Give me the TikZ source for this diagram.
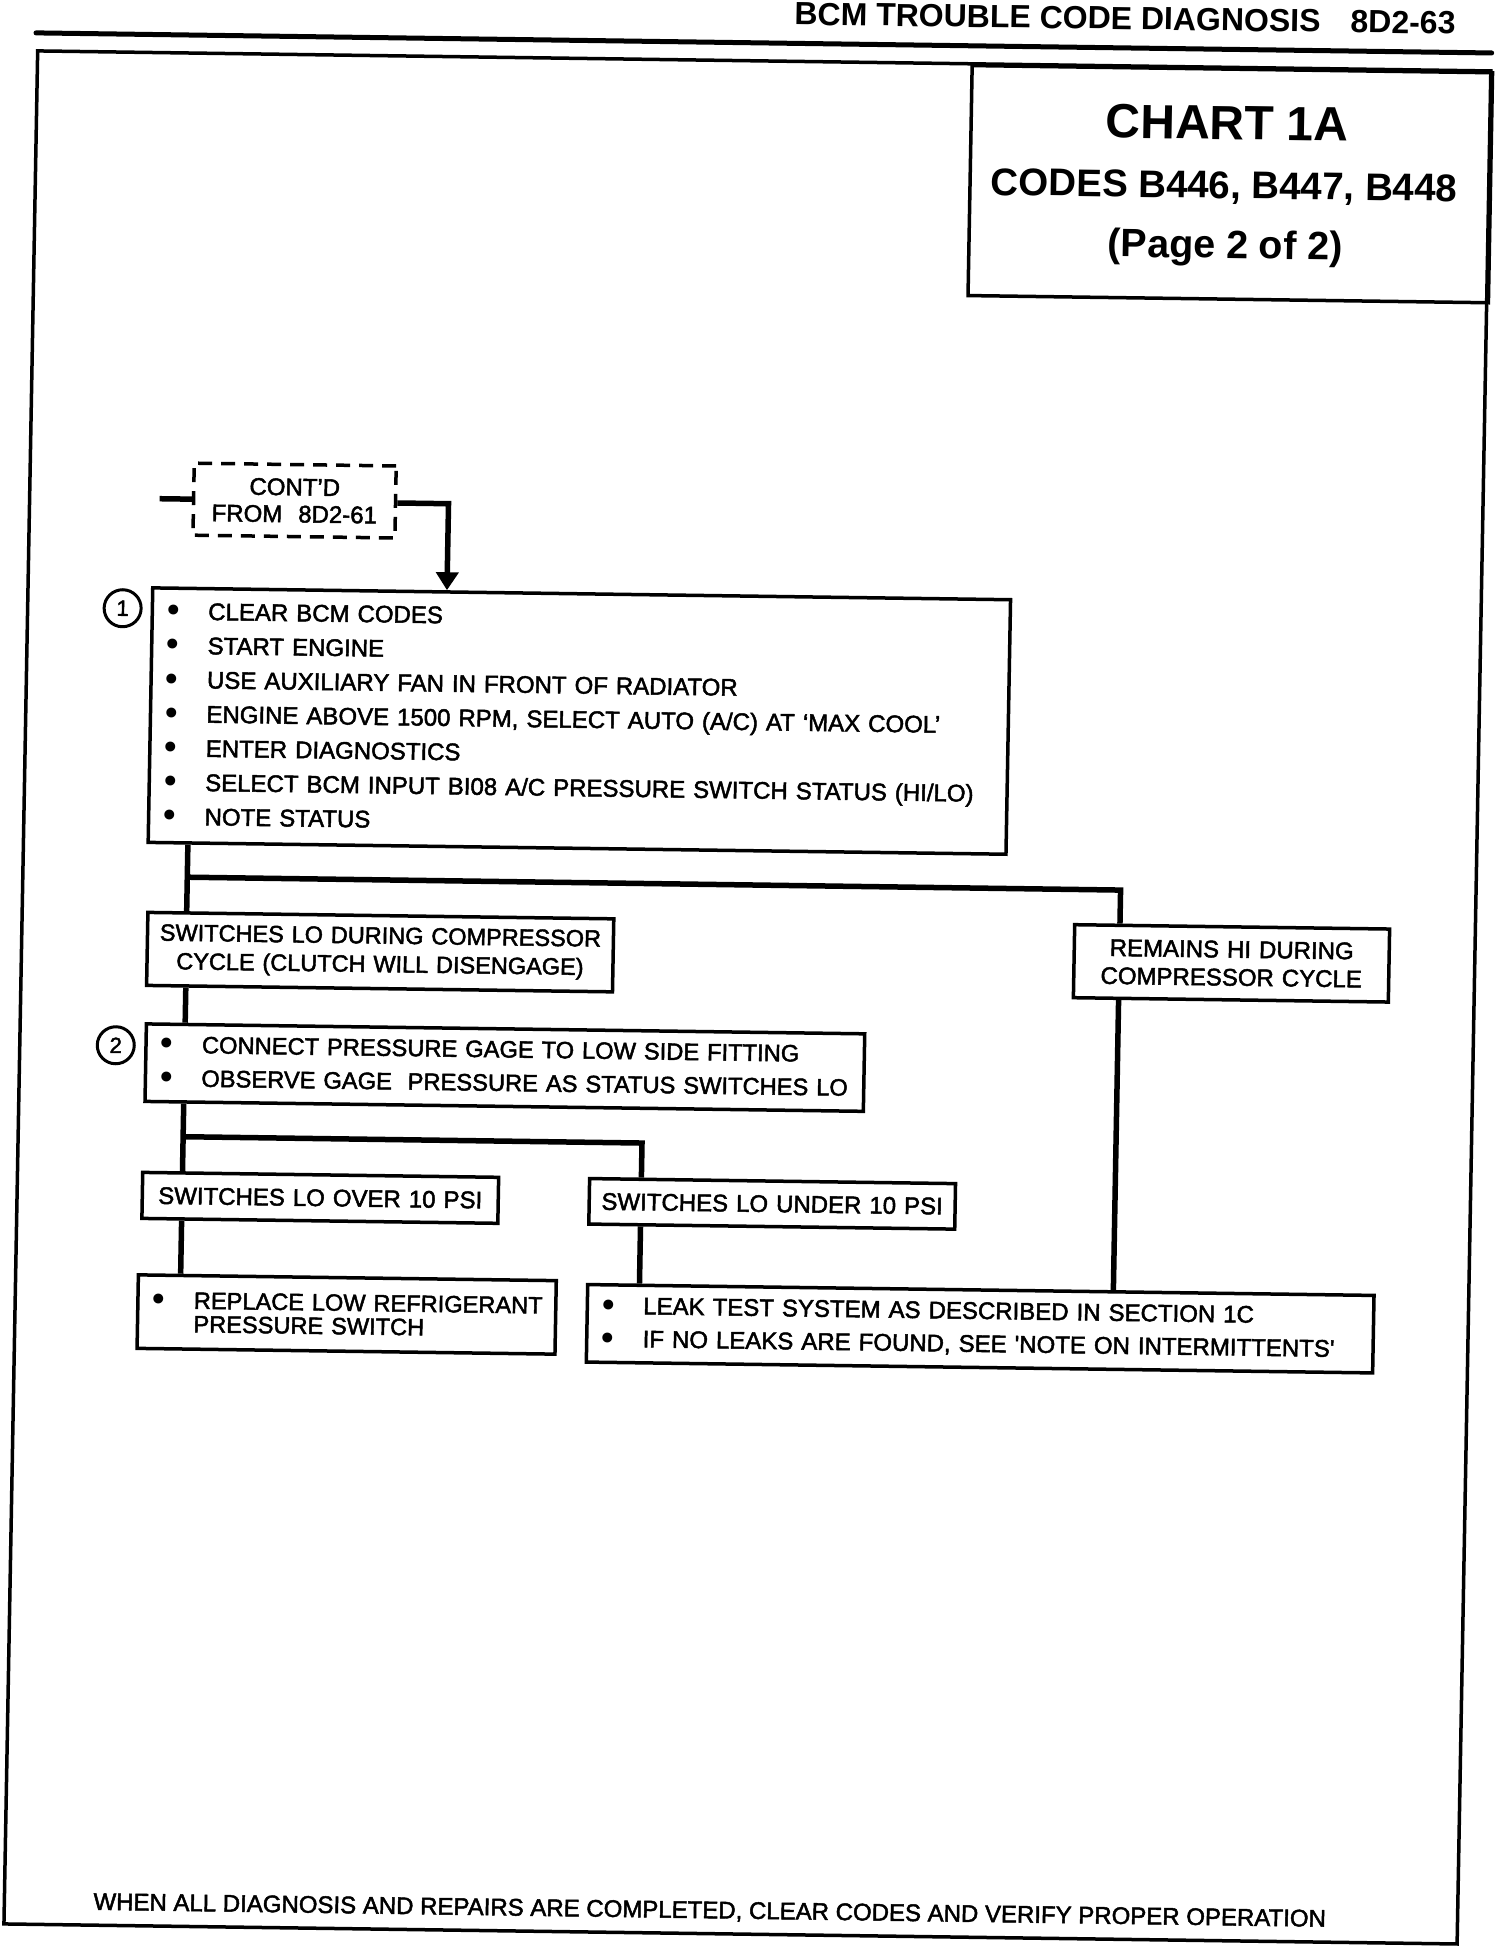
\documentclass[tikz,border=0pt]{standalone}
\usepackage{fontspec}
\setmainfont{Liberation Sans}
\newfontfamily\bodyfont{Liberation Sans}[FakeBold=2]
\newfontfamily\dejavu{DejaVu Sans}
\usetikzlibrary{arrows.meta}
\newcommand{\bul}{\makebox[56pt][l]{\hspace{11pt}\raisebox{-3.3pt}{\dejavu\fontsize{34}{34}\selectfont •}}}
\newcommand{\hang}{\hspace*{56pt}}
\begin{document}
\begin{tikzpicture}[x=1pt,y=-1pt,
  frameline/.style={line width=3.5pt},
  box/.style={draw, line width=3.5pt, inner sep=0pt, anchor=north west, transform shape},
  lbox/.style={box, align=left},
  cbox/.style={box, align=center},
  conn/.style={line width=5.5pt},
  num/.style={circle, draw, line width=3pt, minimum size=37pt, inner sep=0pt, transform shape, font=\bodyfont\fontsize{22}{22}\selectfont},
  txt/.style={inner sep=0pt, transform shape},
  tip/.style={-{Triangle[length=18pt,width=22pt]}},
]
\fill[white] (0,0) rectangle (1504,1954);
\useasboundingbox (0,0) rectangle (1504,1954);
\begin{scope}[shift={(752,977)}, xslant=0.018, yslant=-0.0138, shift={(-752,-977)}]
% page rule and frame
\draw[line width=5pt, line cap=round] (19,43) -- (1475,43);
\draw[frameline] (21,61) rectangle (1474.5,1934);
\node[txt, anchor=base west, font=\bfseries\fontsize{32}{32}\selectfont] (hdr) at (777,24.5) {BCM TROUBLE CODE DIAGNOSIS\hspace{30pt}8D2-63};
% chart title box
\node[box, minimum width=520.5pt, minimum height=230pt] (chart) at (954,61) {};
\node[txt, anchor=base, font=\bfseries\fontsize{48}{48}\selectfont] (t1) at (1212,133) {CHART 1A};
\node[txt, anchor=base, font=\bfseries\fontsize{38.5}{38.5}\selectfont] (t2) at (1210,192) {CODES B446, B447, B448};
\node[txt, anchor=base, font=\bfseries\fontsize{39.5}{39.5}\selectfont] (t3) at (1212,252) {(Page 2 of 2)};
% continuation box
\node[cbox, anchor=center, dash pattern=on 14pt off 9pt, minimum width=202pt, minimum height=72pt, text width=202pt, font=\bodyfont\fontsize{24}{27}\selectfont] (cont) at (286,507) {CONT’D\\FROM\ \ 8D2-61};
% boxes
\node[lbox, minimum width=858pt, minimum height=254.5pt, text width=858pt, font=\bodyfont\fontsize{24}{34.2}\selectfont] (b1) at (144,594.5)
 {\bul CLEAR BCM CODES\\\bul START ENGINE\\\bul USE AUXILIARY FAN IN FRONT OF RADIATOR\\\bul ENGINE ABOVE 1500 RPM, SELECT AUTO (A/C) AT ‘MAX COOL’\\\bul ENTER DIAGNOSTICS\\\bul SELECT BCM INPUT BI08 A/C PRESSURE SWITCH STATUS (HI/LO)\\\bul NOTE STATUS};
\node[num] (n1) at (116,617) {1};
\node[cbox, minimum width=466pt, minimum height=73pt, text width=466pt, font=\bodyfont\fontsize{23.5}{28.5}\selectfont] (sw) at (145,919)
 {SWITCHES LO DURING COMPRESSOR\\CYCLE (CLUTCH WILL DISENGAGE)};
\node[cbox, minimum width=315pt, minimum height=73pt, text width=315pt, font=\bodyfont\fontsize{24}{28}\selectfont] (rem) at (1072,918.5)
 {REMAINS HI DURING\\COMPRESSOR CYCLE};
\node[lbox, minimum width=718.5pt, minimum height=77.5pt, text width=718.5pt, font=\bodyfont\fontsize{23.7}{33.5}\selectfont] (b2) at (145.5,1030.5)
 {\bul CONNECT PRESSURE GAGE TO LOW SIDE FITTING\\\bul OBSERVE GAGE\ \ PRESSURE AS STATUS SWITCHES LO};
\node[num] (n2) at (117,1054) {2};
\node[cbox, minimum width=356pt, minimum height=46pt, text width=356pt, font=\bodyfont\fontsize{24}{28}\selectfont] (over) at (144.5,1179)
 {SWITCHES LO OVER 10 PSI};
\node[cbox, minimum width=366pt, minimum height=45.5pt, text width=366pt, font=\bodyfont\fontsize{24}{28}\selectfont] (under) at (591.5,1179)
 {SWITCHES LO UNDER 10 PSI};
\node[lbox, minimum width=418pt, minimum height=73.5pt, text width=418pt, font=\bodyfont\fontsize{23.6}{23.5}\selectfont] (rep) at (142,1281.5)
 {\bul REPLACE LOW REFRIGERANT\\\hang PRESSURE SWITCH};
\node[lbox, minimum width=786.5pt, minimum height=77.5pt, text width=786.5pt, font=\bodyfont\fontsize{24}{33}\selectfont] (leak) at (591.5,1285)
 {\bul LEAK TEST SYSTEM AS DESCRIBED IN SECTION 1C\\\bul IF NO LEAKS ARE FOUND, SEE \textquotesingle NOTE ON INTERMITTENTS\textquotesingle};
% connectors
\coordinate (stub) at (151,507);
\draw[conn] (stub) -- (cont.west);
\coordinate (ka) at (440,508);
\draw[conn, tip] (cont.east |- ka) -- (ka) -- (440,0 |- b1.north);
\draw[conn] (185.5,0 |- b1.south) -- (185.5,0 |- sw.north);
\coordinate (ja) at (185.5,885);
\coordinate (jb) at (1119,885);
\draw[conn] (ja) -- (jb) -- (1119,0 |- rem.north);
\draw[conn] (1119,0 |- rem.south) -- (1119,0 |- leak.north);
\draw[conn] (186,0 |- sw.south) -- (186,0 |- b2.north);
\draw[conn] (186,0 |- b2.south) -- (186,0 |- over.north);
\coordinate (jc) at (186,1144.5);
\coordinate (jd) at (645,1144.5);
\draw[conn] (jc) -- (jd) -- (645,0 |- under.north);
\draw[conn] (186,0 |- over.south) -- (186,0 |- rep.north);
\draw[conn] (645,0 |- under.south) -- (645,0 |- leak.north);
% footer
\node[txt, anchor=base west, font=\bodyfont\fontsize{24}{24}\selectfont] (foot) at (110,1918.6)
 {WHEN ALL DIAGNOSIS AND REPAIRS ARE COMPLETED, CLEAR CODES AND VERIFY PROPER OPERATION};
\end{scope}
\end{tikzpicture}
\end{document}
